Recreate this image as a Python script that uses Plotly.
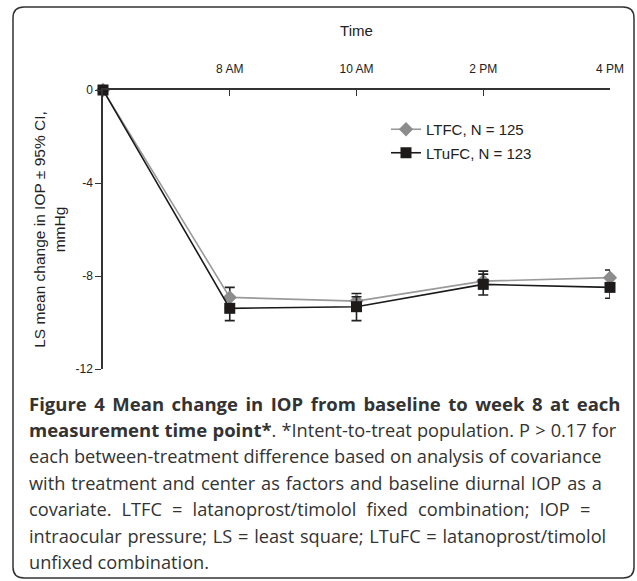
import plotly.graph_objects as go

# ---- data ----
time_positions = [0, 1, 2, 3, 4]
tick_labels = ["8 AM", "10 AM", "2 PM", "4 PM"]
ltfc_mean = [0, -8.92, -9.08, -8.22, -8.07]
ltfc_ci_plus = [0, 0.43, 0.33, 0.43, 0.33]
ltfc_ci_minus = [0, 0, 0, 0, 0]
ltufc_mean = [0, -9.39, -9.32, -8.36, -8.49]
ltufc_ci_plus = [0, 0, 0.43, 0.44, 0]
ltufc_ci_minus = [0, 0.53, 0.6, 0.46, 0.47]
y_ticks = [0, -4, -8, -12]

caption_lines = [
    "<b>Figure 4 Mean change in IOP from baseline to week 8 at each</b>",
    "<b>measurement time point*</b>. *Intent-to-treat population. P > 0.17 for",
    "each between-treatment difference based on analysis of covariance",
    "with treatment and center as factors and baseline diurnal IOP as a",
    "covariate. LTFC = latanoprost/timolol fixed combination; IOP =",
    "intraocular pressure; LS = least square; LTuFC = latanoprost/timolol",
    "unfixed combination.",
]

W, H = 637, 581
L, R, T, B = 103, 610, 90, 369


def px(x):
    return (x - L) / (R - L)


def py(y):
    return 1 - (y - T) / (B - T)


fig = go.Figure()
fig.add_trace(go.Scatter(
    x=time_positions, y=ltfc_mean, name="LTFC, N = 125", legendgroup="a",
    mode="lines+markers",
    line=dict(color="#9a9a9a", width=1.6),
    marker=dict(symbol="diamond", size=11, color="#8c8c8c"),
    error_y=dict(type="data", symmetric=False, array=ltfc_ci_plus,
                 arrayminus=ltfc_ci_minus, color="#222", thickness=1.6, width=5),
    cliponaxis=False,
))
fig.add_trace(go.Scatter(
    x=time_positions, y=ltufc_mean, name="LTuFC, N = 123", legendgroup="b",
    mode="lines+markers",
    line=dict(color="#1a1a1a", width=1.6),
    marker=dict(symbol="square", size=11, color="#1e1a1a"),
    error_y=dict(type="data", symmetric=False, array=ltufc_ci_plus,
                 arrayminus=ltufc_ci_minus, color="#222", thickness=1.6, width=5),
    cliponaxis=False,
))

axis_font = dict(family="Liberation Sans, Arial", size=12, color="#222")
title_font = dict(family="Liberation Sans, Arial", size=15, color="#222")

fig.update_xaxes(
    range=[0, 4], side="top", showline=True, linecolor="#333", linewidth=1.5,
    ticks="inside", ticklen=6, tickwidth=1.3, tickcolor="#333",
    tickvals=time_positions[1:], ticktext=tick_labels, ticklabelstandoff=10,
    showgrid=False, zeroline=False, tickfont=axis_font,
    title=dict(text="Time", font=title_font, standoff=22),
)
fig.update_yaxes(
    range=[-12, 0], showline=True, linecolor="#333", linewidth=1.5,
    ticks="outside", ticklen=6, tickwidth=1.3, tickcolor="#333",
    tickvals=y_ticks, ticktext=[str(v) for v in y_ticks],
    showgrid=False, zeroline=False, tickfont=axis_font,
    title=dict(text="LS mean change in IOP ± 95% CI,<br>mmHg",
               font=dict(family="Liberation Sans, Arial", size=15.5, color="#222"), standoff=6),
)

# rounded frame
x0, x1, y0, y1, r = 13, 634, 7, 578, 11
pts = [
    f"M {px(x0 + r)} {py(y0)}",
    f"L {px(x1 - r)} {py(y0)}",
    f"Q {px(x1)} {py(y0)} {px(x1)} {py(y0 + r)}",
    f"L {px(x1)} {py(y1 - r)}",
    f"Q {px(x1)} {py(y1)} {px(x1 - r)} {py(y1)}",
    f"L {px(x0 + r)} {py(y1)}",
    f"Q {px(x0)} {py(y1)} {px(x0)} {py(y1 - r)}",
    f"L {px(x0)} {py(y0 + r)}",
    f"Q {px(x0)} {py(y0)} {px(x0 + r)} {py(y0)} Z",
]
fig.add_shape(type="path", path=" ".join(pts), xref="paper", yref="paper",
              line=dict(color="#333", width=1.5))

line_y = [403, 429.5, 456, 482.5, 509, 535.5, 562]
word_spacing = [2.7, 0.4, 0, 1.2, 5.4, 1.0, 0]
for i, (txt, yy, ws) in enumerate(zip(caption_lines, line_y, word_spacing)):
    size = 18.5 if i == 0 else 18.2
    if i == 1:
        txt = txt.replace("<b>measurement time point*</b>",
                          '<b><span style="font-size:18.5px">measurement time point*</span></b>')
    if ws:
        txt = f'<span style="word-spacing:{ws}px">{txt}</span>'
    fig.add_annotation(text=txt, x=px(27), y=py(yy), xref="paper", yref="paper",
                       xanchor="left", yanchor="middle", showarrow=False,
                       font=dict(family="Open Sans", size=size, color="#333"))

fig.update_layout(
    width=W, height=H,
    margin=dict(l=L, r=W - R, t=T, b=H - B),
    paper_bgcolor="white", plot_bgcolor="white",
    showlegend=True,
    legend=dict(x=px(386), y=py(113), xanchor="left", yanchor="top",
                bgcolor="rgba(0,0,0,0)", font=title_font,
                tracegroupgap=1),
)

fig.write_html("out.html", config={"displayModeBar": False},
               post_script="document.body.style.margin='0';")
